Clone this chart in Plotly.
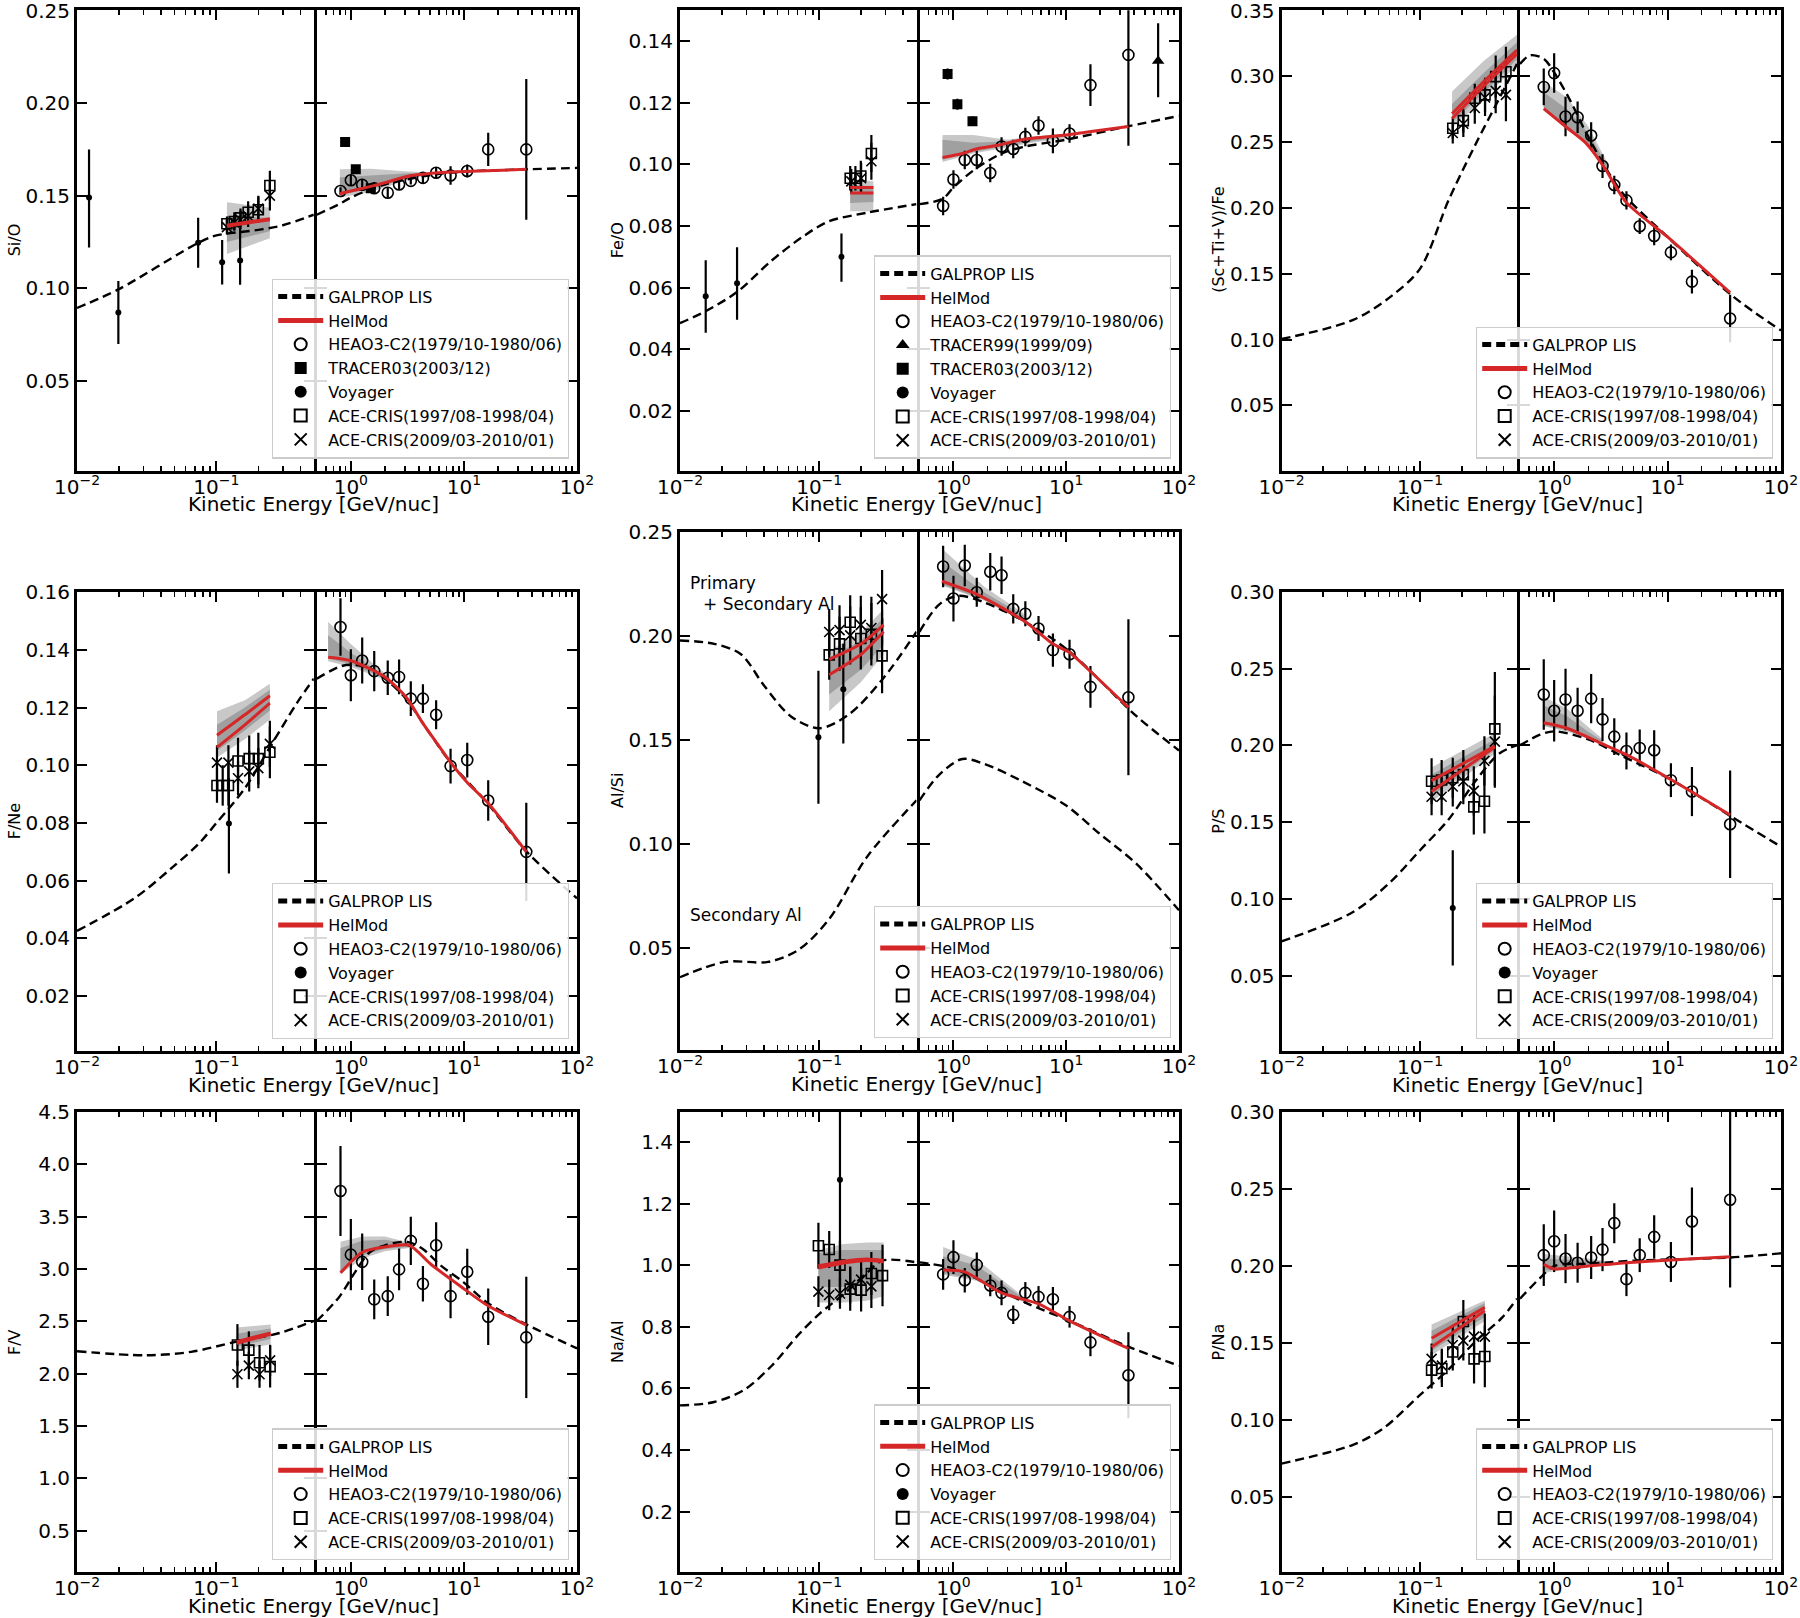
import math
import plotly.graph_objects as go

W, H = 1800, 1618
FONT = "DejaVu Sans"
RED = "#d62728"
BAND_OUT = "rgb(200,200,200)"
BAND_IN = "rgb(160,160,160)"

# ---------------- shared HEAO3-C2 energies ----------------
HEAO_E = [0.81, 1.0, 1.26, 1.61, 2.12, 2.67, 3.39, 4.34, 5.68, 7.62, 10.7, 16.4, 35.6]

# ---------------- Panel 1 : Si/O ----------------
SIO_GAL_L_E = [0.01, 0.02, 0.074, 0.1, 0.2, 0.3, 0.5]
SIO_GAL_L = [0.0893, 0.0995, 0.1245, 0.1285, 0.1315, 0.134, 0.1397]
SIO_GAL_R_E = [0.5, 0.8, 1.0, 2.0, 5.0, 10.0, 35.6, 100.0]
SIO_GAL_R = [0.1397, 0.1456, 0.149, 0.156, 0.161, 0.163, 0.1642, 0.165]
SIO_HM_L_E = [0.119, 0.242]
SIO_HM_L_A = [0.134, 0.1375]
SIO_HM_L_B = [0.1335, 0.137]
SIO_BO_L_LO = [0.1185, 0.127]
SIO_BO_L_HI = [0.1465, 0.1435]
SIO_BI_L_LO = [0.125, 0.1307]
SIO_BI_L_HI = [0.139, 0.138]
SIO_HM_R_E = [0.8, 1.0, 1.5, 2.0, 3.2, 5.0, 10.0, 35.6]
SIO_HM_R = [0.151, 0.1525, 0.155, 0.157, 0.1605, 0.162, 0.163, 0.1642]
SIO_B_R_E = [0.8, 1.5, 3.0, 5.0]
SIO_BO_R_LO = [0.149, 0.152, 0.158, 0.1615]
SIO_BO_R_HI = [0.1642, 0.1645, 0.1632, 0.1625]
SIO_BI_R_LO = [0.1505, 0.1535, 0.159, 0.1618]
SIO_BI_R_HI = [0.16, 0.161, 0.162, 0.1622]
SIO_VOY_E = [0.0122, 0.0198, 0.074, 0.11, 0.148]
SIO_VOY = [0.149, 0.0869, 0.1245, 0.114, 0.115]
SIO_VOY_EP = [0.026, 0.017, 0.0135, 0.012, 0.0175]
SIO_VOY_EM = [0.027, 0.017, 0.0135, 0.012, 0.0132]
SIO_ACE97_E = [0.119, 0.1345, 0.149, 0.169, 0.2, 0.242]
SIO_ACE97 = [0.1348, 0.136, 0.138, 0.141, 0.1424, 0.1555]
SIO_ACE97_ERR = [0.004, 0.005, 0.005, 0.006, 0.007, 0.008]
SIO_ACE09_E = [0.119, 0.1345, 0.149, 0.169, 0.2, 0.242]
SIO_ACE09 = [0.133, 0.1355, 0.137, 0.139, 0.143, 0.150]
SIO_ACE09_ERR = [0.004, 0.004, 0.005, 0.006, 0.007, 0.008]
SIO_TR03_E = [0.89, 1.106, 1.5]
SIO_TR03 = [0.179, 0.1642, 0.154]
SIO_TR03_ERR = [0.002, 0.002, 0.002]
SIO_HEAO = [0.1525, 0.1583, 0.1559, 0.154, 0.1516, 0.156, 0.158, 0.1596, 0.1624, 0.1609, 0.1633, 0.175, 0.175]
SIO_HEAO_ERR = [0.002, 0.003, 0.003, 0.003, 0.003, 0.003, 0.002, 0.003, 0.003, 0.005, 0.0035, 0.009, 0.038]

# ---------------- Panel 2 : Fe/O ----------------
FEO_GAL_L_E = [0.01, 0.0153, 0.0257, 0.045, 0.076, 0.117, 0.22, 0.5]
FEO_GAL_L = [0.0485, 0.0524, 0.0586, 0.0686, 0.0765, 0.0815, 0.0843, 0.0871]
FEO_GAL_R_E = [0.5, 0.8, 1.0, 1.5, 2.6, 4.1, 10.0, 35.0, 100.0]
FEO_GAL_R = [0.0871, 0.0888, 0.0925, 0.098, 0.1033, 0.1056, 0.108, 0.1123, 0.1157]
FEO_HM_L_E = [0.167, 0.245]
FEO_HM_L_A = [0.0925, 0.0925]
FEO_HM_L_B = [0.0907, 0.0907]
FEO_BO_L_LO = [0.0848, 0.0848]
FEO_BO_L_HI = [0.0952, 0.0945]
FEO_BI_L_LO = [0.0875, 0.0878]
FEO_BI_L_HI = [0.0932, 0.093]
FEO_HM_R_E = [0.8, 1.2, 1.6, 2.5, 4.2, 10.0, 16.0, 35.6]
FEO_HM_R = [0.1022, 0.1035, 0.105, 0.1062, 0.1081, 0.1095, 0.1106, 0.1123]
FEO_B_R_E = [0.8, 1.5, 3.0, 5.0, 10.0]
FEO_BO_R_LO = [0.1008, 0.1035, 0.1055, 0.107, 0.1085]
FEO_BO_R_HI = [0.1095, 0.1095, 0.108, 0.109, 0.110]
FEO_BI_R_LO = [0.1015, 0.104, 0.106, 0.1075, 0.109]
FEO_BI_R_HI = [0.108, 0.107, 0.1075, 0.1085, 0.1095]
FEO_VOY_E = [0.0153, 0.0257, 0.1445]
FEO_VOY = [0.0572, 0.0614, 0.070]
FEO_VOY_EP = [0.0117, 0.0117, 0.0076]
FEO_VOY_EM = [0.0118, 0.0118, 0.0081]
FEO_ACE97_E = [0.167, 0.182, 0.199, 0.237]
FEO_ACE97 = [0.0955, 0.0955, 0.0962, 0.1035]
FEO_ACE97_ERR = [0.004, 0.004, 0.005, 0.006]
FEO_ACE09_E = [0.17, 0.2, 0.237]
FEO_ACE09 = [0.0945, 0.0955, 0.101]
FEO_ACE09_ERR = [0.004, 0.005, 0.006]
FEO_TR99_E = [65.3]
FEO_TR99 = [0.1335]
FEO_TR99_EP = [0.0123]
FEO_TR99_EM = [0.0117]
FEO_TR03_E = [0.887, 1.084, 1.475]
FEO_TR03 = [0.1293, 0.1195, 0.114]
FEO_TR03_ERR = [0.0018, 0.0018, 0.0015]
FEO_HEAO = [0.0865, 0.0951, 0.1014, 0.1014, 0.0972, 0.1058, 0.105, 0.1089, 0.1126, 0.1076, 0.110, 0.1257, 0.1355]
FEO_HEAO_ERR = [0.003, 0.003, 0.003, 0.003, 0.003, 0.003, 0.003, 0.003, 0.003, 0.004, 0.003, 0.0068, 0.0295]

# ---------------- Panel 3 : (Sc+Ti+V)/Fe ----------------
STV_GAL_L_E = [0.01, 0.0329, 0.062, 0.1, 0.161, 0.25, 0.367, 0.5]
STV_GAL_L = [0.1005, 0.115, 0.1331, 0.154, 0.2063, 0.248, 0.282, 0.3095]
STV_GAL_R_E = [0.5, 0.615, 0.81, 1.0, 1.38, 1.88, 2.76, 4.0, 10.0, 37.6, 100.0]
STV_GAL_R = [0.3095, 0.316, 0.3134, 0.303, 0.282, 0.2585, 0.2324, 0.2115, 0.178, 0.133, 0.107]
STV_HM_L_E = [0.17, 0.29, 0.5]
STV_HM_L_A = [0.2716, 0.2964, 0.320]
STV_HM_L_B = [0.268, 0.293, 0.317]
STV_BO_L_LO = [0.2612, 0.283, 0.309]
STV_BO_L_HI = [0.2886, 0.312, 0.3317]
STV_BI_L_LO = [0.265, 0.288, 0.313]
STV_BI_L_HI = [0.279, 0.303, 0.326]
STV_HM_R_E = [0.81, 1.3, 1.9, 2.76, 4.3, 10.0, 35.6]
STV_HM_R = [0.2755, 0.261, 0.2495, 0.231, 0.2045, 0.178, 0.1357]
STV_B_R_E = [0.81, 1.3, 2.0, 3.0]
STV_BO_R_LO = [0.274, 0.261, 0.248, 0.226]
STV_BO_R_HI = [0.296, 0.284, 0.262, 0.233]
STV_BI_R_LO = [0.275, 0.262, 0.249, 0.227]
STV_BI_R_HI = [0.288, 0.275, 0.257, 0.231]
STV_ACE97_E = [0.172, 0.205, 0.248, 0.294, 0.351, 0.416]
STV_ACE97 = [0.2606, 0.2664, 0.2834, 0.286, 0.2998, 0.3035]
STV_ACE97_ERR = [0.008, 0.009, 0.011, 0.013, 0.016, 0.019]
STV_ACE09_E = [0.172, 0.205, 0.248, 0.294, 0.351, 0.416]
STV_ACE09 = [0.257, 0.264, 0.276, 0.284, 0.289, 0.286]
STV_ACE09_ERR = [0.008, 0.01, 0.012, 0.014, 0.017, 0.02]
STV_HEAO = [0.292, 0.3025, 0.2695, 0.269, 0.2551, 0.2319, 0.2175, 0.2058, 0.1862, 0.1788, 0.1663, 0.1441, 0.1161]
STV_HEAO_ERR = [0.014, 0.015, 0.015, 0.012, 0.01, 0.009, 0.007, 0.007, 0.006, 0.007, 0.006, 0.009, 0.018]

# ---------------- Panel 4 : F/Ne ----------------
FNE_GAL_L_E = [0.01, 0.0258, 0.0483, 0.075, 0.1, 0.16, 0.25, 0.38, 0.5]
FNE_GAL_L = [0.0426, 0.0539, 0.0646, 0.0729, 0.080, 0.092, 0.1074, 0.1217, 0.130]
FNE_GAL_R_E = [0.5, 0.8, 1.0, 1.5, 2.0, 3.0, 5.0, 7.6, 16.0, 36.0, 100.0]
FNE_GAL_R = [0.130, 0.1342, 0.1348, 0.1335, 0.130, 0.1235, 0.111, 0.101, 0.087, 0.070, 0.0539]
FNE_HM_L_E = [0.101, 0.16, 0.242]
FNE_HM_L_A = [0.1104, 0.1175, 0.1241]
FNE_HM_L_B = [0.1062, 0.114, 0.1215]
FNE_BO_L_LO = [0.1027, 0.109, 0.1158]
FNE_BO_L_HI = [0.1187, 0.1225, 0.1282]
FNE_BI_L_LO = [0.105, 0.112, 0.119]
FNE_BI_L_HI = [0.114, 0.120, 0.1262]
FNE_HM_R_E = [0.63, 1.0, 2.0, 3.1, 4.34, 5.68, 7.62, 10.7, 16.4, 35.6]
FNE_HM_R = [0.1374, 0.1362, 0.1306, 0.1235, 0.1145, 0.108, 0.101, 0.094, 0.0868, 0.070]
FNE_B_R_E = [0.63, 1.0, 1.6, 2.2]
FNE_BO_R_LO = [0.136, 0.134, 0.131, 0.129]
FNE_BO_R_HI = [0.1497, 0.142, 0.135, 0.1305]
FNE_BI_R_LO = [0.137, 0.135, 0.1315, 0.1293]
FNE_BI_R_HI = [0.145, 0.139, 0.1335, 0.130]
FNE_VOY_E = [0.123]
FNE_VOY = [0.0798]
FNE_VOY_EP = [0.0157]
FNE_VOY_EM = [0.0173]
FNE_ACE97_E = [0.101, 0.111, 0.122, 0.143, 0.172, 0.2, 0.242]
FNE_ACE97 = [0.093, 0.093, 0.093, 0.1015, 0.1023, 0.1023, 0.1045]
FNE_ACE97_ERR = [0.006, 0.007, 0.007, 0.008, 0.008, 0.009, 0.009]
FNE_ACE09_E = [0.101, 0.122, 0.143, 0.172, 0.2, 0.242]
FNE_ACE09 = [0.1009, 0.1009, 0.0955, 0.0979, 0.099, 0.1074]
FNE_ACE09_ERR = [0.006, 0.006, 0.006, 0.007, 0.007, 0.008]
FNE_HEAO = [0.1479, 0.1312, 0.1363, 0.1326, 0.1303, 0.1306, 0.1231, 0.1231, 0.1175, 0.0997, 0.1018, 0.0878, 0.070]
FNE_HEAO_ERR = [0.01, 0.009, 0.008, 0.007, 0.006, 0.006, 0.006, 0.005, 0.005, 0.006, 0.006, 0.007, 0.017]

# ---------------- Panel 5 : Al/Si ----------------
ALSI_GAL_L_E = [0.01, 0.0176, 0.0274, 0.04, 0.0624, 0.1, 0.164, 0.29, 0.5]
ALSI_GAL_L = [0.198, 0.1964, 0.1914, 0.1765, 0.1616, 0.1558, 0.1625, 0.180, 0.2022]
ALSI_GAL_R_E = [0.5, 0.75, 1.1, 1.9, 4.3, 10.0, 42.0, 100.0]
ALSI_GAL_R = [0.2022, 0.2154, 0.2195, 0.2162, 0.207, 0.194, 0.1616, 0.1451]
ALSI_SEC_L_E = [0.01, 0.021, 0.043, 0.071, 0.118, 0.22, 0.5]
ALSI_SEC_L = [0.036, 0.0434, 0.0434, 0.0492, 0.064, 0.0938, 0.1211]
ALSI_SEC_R_E = [0.5, 0.75, 1.2, 1.9, 4.1, 10.0, 19.4, 42.0, 100.0]
ALSI_SEC_R = [0.1211, 0.1335, 0.141, 0.1385, 0.1302, 0.1186, 0.1054, 0.0905, 0.0682]
ALSI_HM_L_E = [0.118, 0.2, 0.29]
ALSI_HM_L_A = [0.1889, 0.1964, 0.2055]
ALSI_HM_L_B = [0.1815, 0.1914, 0.2022]
ALSI_BO_L_LO = [0.164, 0.178, 0.1914]
ALSI_BO_L_HI = [0.193, 0.202, 0.213]
ALSI_BI_L_LO = [0.172, 0.184, 0.196]
ALSI_BI_L_HI = [0.19, 0.198, 0.209]
ALSI_HM_R_E = [0.79, 1.6, 4.34, 7.62, 10.7, 16.4, 35.6]
ALSI_HM_R = [0.2265, 0.2203, 0.207, 0.1964, 0.1922, 0.1831, 0.1658]
ALSI_B_R_E = [0.79, 1.9, 4.2]
ALSI_BO_R_LO = [0.2245, 0.217, 0.207]
ALSI_BO_R_HI = [0.2423, 0.2236, 0.211]
ALSI_BI_R_LO = [0.225, 0.2175, 0.2075]
ALSI_BI_R_HI = [0.236, 0.221, 0.210]
ALSI_VOY_E = [0.0987, 0.149]
ALSI_VOY = [0.1514, 0.1745]
ALSI_VOY_EP = [0.0321, 0.0219]
ALSI_VOY_EM = [0.0319, 0.0261]
ALSI_ACE97_E = [0.118, 0.140, 0.167, 0.199, 0.237, 0.283]
ALSI_ACE97 = [0.1911, 0.1964, 0.2068, 0.199, 0.201, 0.1906]
ALSI_ACE97_ERR = [0.012, 0.013, 0.013, 0.015, 0.015, 0.018]
ALSI_ACE09_E = [0.118, 0.140, 0.167, 0.199, 0.237, 0.283]
ALSI_ACE09 = [0.2021, 0.2030, 0.2005, 0.2055, 0.2040, 0.2179]
ALSI_ACE09_ERR = [0.011, 0.012, 0.014, 0.014, 0.015, 0.014]
ALSI_HEAO = [0.2336, 0.2182, 0.2341, 0.2212, 0.2311, 0.2294, 0.2132, 0.2109, 0.2038, 0.1934, 0.1914, 0.1757, 0.1707]
ALSI_HEAO_ERR = [0.01, 0.011, 0.01, 0.007, 0.009, 0.009, 0.007, 0.006, 0.006, 0.008, 0.007, 0.01, 0.0375]

# ---------------- Panel 6 : P/S ----------------
PS_GAL_L_E = [0.01, 0.0328, 0.062, 0.1, 0.161, 0.25, 0.37, 0.5]
PS_GAL_L = [0.0724, 0.0915, 0.1117, 0.1318, 0.152, 0.1767, 0.1946, 0.2002]
PS_GAL_R_E = [0.5, 0.75, 1.0, 2.0, 4.0, 10.7, 37.6, 100.0]
PS_GAL_R = [0.2002, 0.207, 0.2092, 0.204, 0.193, 0.1778, 0.1531, 0.1341]
PS_HM_L_E = [0.121, 0.346]
PS_HM_L_A = [0.1771, 0.1996]
PS_HM_L_B = [0.170, 0.199]
PS_BO_L_LO = [0.1632, 0.1946]
PS_BO_L_HI = [0.1857, 0.208]
PS_BI_L_LO = [0.167, 0.197]
PS_BI_L_HI = [0.181, 0.204]
PS_HM_R_E = [0.81, 1.28, 2.67, 4.34, 10.7, 35.6]
PS_HM_R = [0.2148, 0.2114, 0.201, 0.194, 0.1778, 0.1547]
PS_B_R_E = [0.81, 1.3, 2.0, 2.7]
PS_BO_R_LO = [0.2126, 0.209, 0.205, 0.200]
PS_BO_R_HI = [0.2316, 0.224, 0.212, 0.204]
PS_BI_R_LO = [0.213, 0.21, 0.205, 0.2005]
PS_BI_R_HI = [0.226, 0.219, 0.209, 0.203]
PS_VOY_E = [0.172]
PS_VOY = [0.0942]
PS_VOY_EP = [0.0376]
PS_VOY_EM = [0.0375]
PS_ACE97_E = [0.121, 0.143, 0.172, 0.205, 0.244, 0.291, 0.346]
PS_ACE97 = [0.1767, 0.1775, 0.179, 0.181, 0.160, 0.1637, 0.2108]
PS_ACE97_ERR = [0.015, 0.013, 0.013, 0.016, 0.018, 0.021, 0.037]
PS_ACE09_E = [0.121, 0.143, 0.172, 0.205, 0.244, 0.291, 0.346]
PS_ACE09 = [0.1666, 0.1666, 0.1733, 0.1767, 0.1704, 0.19, 0.2025]
PS_ACE09_ERR = [0.012, 0.012, 0.013, 0.015, 0.016, 0.016, 0.03]
PS_HEAO = [0.2332, 0.2226, 0.23, 0.2226, 0.2305, 0.217, 0.2058, 0.1964, 0.1984, 0.1969, 0.1774, 0.17, 0.1487]
PS_HEAO_ERR = [0.023, 0.02, 0.02, 0.015, 0.016, 0.014, 0.012, 0.012, 0.012, 0.013, 0.011, 0.016, 0.035]

# ---------------- Panel 7 : F/V ----------------
FV_GAL_L_E = [0.01, 0.031, 0.066, 0.14, 0.284, 0.5]
FV_GAL_L = [2.214, 2.175, 2.208, 2.306, 2.388, 2.503]
FV_GAL_R_E = [0.5, 0.79, 1.08, 1.47, 2.0, 3.16, 4.3, 6.3, 10.0, 16.0, 35.6, 100.0]
FV_GAL_R = [2.503, 2.733, 2.963, 3.16, 3.226, 3.259, 3.193, 3.029, 2.87, 2.68, 2.47, 2.241]
FV_HM_L_E = [0.14, 0.245]
FV_HM_L_A = [2.306, 2.389]
FV_HM_L_B = [2.29, 2.375]
FV_BO_L_LO = [2.22, 2.28]
FV_BO_L_HI = [2.44, 2.47]
FV_BI_L_LO = [2.26, 2.33]
FV_BI_L_HI = [2.38, 2.43]
FV_HM_R_E = [0.81, 1.26, 2.0, 3.3, 5.1, 9.4, 16.2, 35.6]
FV_HM_R = [2.963, 3.16, 3.21, 3.226, 3.045, 2.832, 2.651, 2.464]
FV_B_R_E = [0.81, 1.26, 2.0, 3.3]
FV_BO_R_LO = [2.95, 3.10, 3.17, 3.20]
FV_BO_R_HI = [3.26, 3.31, 3.31, 3.25]
FV_BI_R_LO = [2.98, 3.13, 3.19, 3.21]
FV_BI_R_HI = [3.20, 3.27, 3.28, 3.24]
FV_ACE97_E = [0.1416, 0.171, 0.204, 0.243]
FV_ACE97 = [2.273, 2.224, 2.103, 2.067]
FV_ACE97_ERR = [0.2, 0.18, 0.17, 0.2]
FV_ACE09_E = [0.1416, 0.171, 0.204, 0.243]
FV_ACE09 = [1.994, 2.076, 1.994, 2.126]
FV_ACE09_ERR = [0.13, 0.13, 0.13, 0.15]
FV_HEAO = [3.745, 3.137, 3.068, 2.71, 2.74, 2.996, 3.268, 2.858, 3.226, 2.74, 2.973, 2.543, 2.346]
FV_HEAO_ERR = [0.43, 0.34, 0.27, 0.19, 0.19, 0.2, 0.23, 0.17, 0.22, 0.21, 0.22, 0.27, 0.58]

# ---------------- Panel 8 : Na/Al ----------------
NAAL_GAL_L_E = [0.01, 0.0176, 0.029, 0.0456, 0.071, 0.1, 0.152, 0.22, 0.285, 0.5]
NAAL_GAL_L = [0.545, 0.556, 0.596, 0.674, 0.775, 0.842, 0.909, 0.976, 1.016, 1.01]
NAAL_GAL_R_E = [0.5, 1.0, 2.0, 4.3, 10.7, 35.6, 100.0]
NAAL_GAL_R = [1.01, 0.99, 0.94, 0.88, 0.82, 0.736, 0.674]
NAAL_HM_L_E = [0.0987, 0.15, 0.22, 0.29]
NAAL_HM_L_A = [0.999, 1.014, 1.021, 1.016]
NAAL_HM_L_B = [0.992, 1.008, 1.016, 1.012]
NAAL_BO_L_LO = [0.88, 0.88, 0.885, 0.90]
NAAL_BO_L_HI = [1.05, 1.07, 1.075, 1.075]
NAAL_BI_L_LO = [0.93, 0.93, 0.94, 0.95]
NAAL_BI_L_HI = [1.04, 1.05, 1.05, 1.05]
NAAL_HM_R_E = [0.81, 1.26, 2.67, 5.68, 10.7, 35.6]
NAAL_HM_R = [0.985, 0.979, 0.911, 0.875, 0.82, 0.73]
NAAL_B_R_E = [0.81, 1.6, 3.0, 4.3]
NAAL_BO_R_LO = [0.97, 0.95, 0.90, 0.88]
NAAL_BO_R_HI = [1.06, 1.02, 0.94, 0.895]
NAAL_BI_R_LO = [0.975, 0.955, 0.905, 0.882]
NAAL_BI_R_HI = [1.03, 1.0, 0.93, 0.89]
NAAL_VOY_E = [0.141]
NAAL_VOY = [1.279]
NAAL_VOY_EP = [0.25]
NAAL_VOY_EM = [0.40]
NAAL_ACE97_E = [0.0987, 0.118, 0.141, 0.167, 0.2, 0.237, 0.285]
NAAL_ACE97 = [1.064, 1.052, 1.001, 0.923, 0.920, 0.974, 0.967]
NAAL_ACE97_ERR = [0.075, 0.06, 0.08, 0.07, 0.07, 0.07, 0.1]
NAAL_ACE09_E = [0.0987, 0.118, 0.141, 0.167, 0.2, 0.237]
NAAL_ACE09 = [0.915, 0.904, 0.909, 0.937, 0.954, 0.932]
NAAL_ACE09_ERR = [0.05, 0.05, 0.05, 0.06, 0.06, 0.07]
NAAL_HEAO = [0.971, 1.027, 0.952, 1.002, 0.935, 0.911, 0.84, 0.911, 0.898, 0.89, 0.833, 0.75, 0.643]
NAAL_HEAO_ERR = [0.05, 0.055, 0.04, 0.04, 0.035, 0.04, 0.03, 0.035, 0.035, 0.04, 0.035, 0.045, 0.14]

# ---------------- Panel 9 : P/Na ----------------
PNA_GAL_L_E = [0.01, 0.0328, 0.055, 0.1, 0.161, 0.25, 0.39, 0.5]
PNA_GAL_L = [0.0717, 0.0839, 0.095, 0.1163, 0.133, 0.1509, 0.1665, 0.1788]
PNA_GAL_R_E = [0.5, 0.75, 1.0, 2.0, 5.0, 35.6, 100.0]
PNA_GAL_R = [0.1788, 0.1922, 0.200, 0.2015, 0.2035, 0.2056, 0.2083]
PNA_HM_L_E = [0.121, 0.293]
PNA_HM_L_A = [0.1531, 0.1732]
PNA_HM_L_B = [0.1475, 0.171]
PNA_BO_L_LO = [0.142, 0.1643]
PNA_BO_L_HI = [0.162, 0.1777]
PNA_BI_L_LO = [0.145, 0.167]
PNA_BI_L_HI = [0.158, 0.176]
PNA_HM_R_E = [0.81, 1.0, 2.0, 4.34, 10.7, 35.6]
PNA_HM_R = [0.2011, 0.1982, 0.200, 0.2022, 0.204, 0.206]
PNA_B_R_E = [0.81, 1.3, 2.0, 2.7]
PNA_BO_R_LO = [0.1955, 0.198, 0.200, 0.201]
PNA_BO_R_HI = [0.2078, 0.2065, 0.205, 0.2035]
PNA_BI_R_LO = [0.197, 0.1985, 0.2005, 0.2013]
PNA_BI_R_HI = [0.205, 0.204, 0.2035, 0.203]
PNA_ACE97_E = [0.121, 0.1435, 0.172, 0.205, 0.245, 0.293]
PNA_ACE97 = [0.1324, 0.1335, 0.1442, 0.164, 0.1397, 0.1413]
PNA_ACE97_ERR = [0.012, 0.012, 0.012, 0.014, 0.016, 0.02]
PNA_ACE09_E = [0.121, 0.1435, 0.172, 0.205, 0.245, 0.293]
PNA_ACE09 = [0.1397, 0.1353, 0.1487, 0.1516, 0.1542, 0.1542]
PNA_ACE09_ERR = [0.01, 0.011, 0.012, 0.013, 0.014, 0.015]
PNA_HEAO = [0.2071, 0.2161, 0.2049, 0.2022, 0.2056, 0.2107, 0.2279, 0.1915, 0.2071, 0.219, 0.2027, 0.229, 0.2431]
PNA_HEAO_ERR = [0.02, 0.02, 0.016, 0.013, 0.014, 0.014, 0.013, 0.011, 0.011, 0.014, 0.013, 0.022, 0.057]

# ---------------- axis ticks / titles ----------------
Y_TITLES = ["Si/O", "Fe/O", "(Sc+Ti+V)/Fe", "F/Ne", "Al/Si", "P/S", "F/V", "Na/Al", "P/Na"]
Y_RANGES = [(0.0015, 0.2502), (0.0007, 0.15), (0.0006, 0.3503), (0.001, 0.1602), (0.001, 0.2502),
            (0.001, 0.3003), (0.1, 4.503), (0.002, 1.5), (0.001, 0.3003)]
Y_TICKS = [
    [0.05, 0.10, 0.15, 0.20, 0.25],
    [0.02, 0.04, 0.06, 0.08, 0.10, 0.12, 0.14],
    [0.05, 0.10, 0.15, 0.20, 0.25, 0.30, 0.35],
    [0.02, 0.04, 0.06, 0.08, 0.10, 0.12, 0.14, 0.16],
    [0.05, 0.10, 0.15, 0.20, 0.25],
    [0.05, 0.10, 0.15, 0.20, 0.25, 0.30],
    [0.5, 1.0, 1.5, 2.0, 2.5, 3.0, 3.5, 4.0, 4.5],
    [0.2, 0.4, 0.6, 0.8, 1.0, 1.2, 1.4],
    [0.05, 0.10, 0.15, 0.20, 0.25, 0.30],
]
Y_FMT = ["{:.2f}", "{:.2f}", "{:.2f}", "{:.2f}", "{:.2f}", "{:.2f}", "{:.1f}", "{:.1f}", "{:.2f}"]
X_TITLE = "Kinetic Energy [GeV/nuc]"
X_LEFT_TICKS = [0.01, 0.1]
X_LEFT_TEXT = ["10<sup>\u22122</sup>", "10<sup>\u22121</sup>"]
X_RIGHT_TICKS = [1, 10, 100]
X_RIGHT_TEXT = ["10<sup>0</sup>", "10<sup>1</sup>", "10<sup>2</sup>"]
E_SPLIT = 0.5

# ---------------- geometry (window pixels) ----------------
COLS = [(77, 313.8, 577), (680, 916.5, 1179), (1281.5, 1517, 1781)]
PANEL_ROWS = [(10.2, 470.5), (10.2, 470.5), (10.2, 470.5),
              (591.5, 1051), (532, 1050), (591.5, 1051),
              (1111.7, 1572.4), (1111.7, 1572.4), (1111.7, 1572.4)]
LW = 3


def fx(px):
    return px / W


def fy(py):
    return 1 - py / H


fig = go.Figure()

STYLES = {
    "HEAO": dict(name="HEAO3-C2(1979/10-1980/06)", symbol="circle-open", size=11, rank=3),
    "TR99": dict(name="TRACER99(1999/09)", symbol="triangle-up", size=11, rank=4),
    "TR03": dict(name="TRACER03(2003/12)", symbol="square", size=10, rank=5),
    "VOY": dict(name="Voyager", symbol="circle", size=6, rank=6),
    "ACE97": dict(name="ACE-CRIS(1997/08-1998/04)", symbol="square-open", size=10, rank=7),
    "ACE09": dict(name="ACE-CRIS(2009/03-2010/01)", symbol="x-thin-open", size=10, rank=8),
}


def axref(n, letter):
    return letter if n == 1 else f"{letter}{n}"


def legname(k):
    return "legend" if k == 0 else f"legend{k + 1}"


def add_band(n, k, E, lo, hi, color):
    fig.add_trace(go.Scatter(
        x=list(E) + list(E)[::-1], y=list(hi) + list(lo)[::-1],
        fill="toself", fillcolor=color, line=dict(width=0), mode="lines",
        hoverinfo="skip", showlegend=False,
        xaxis=axref(n, "x"), yaxis=axref(n, "y"), legend=legname(k)))


def add_gal(n, k, E, y, show):
    fig.add_trace(go.Scatter(
        x=E, y=y, mode="lines", name="GALPROP LIS",
        line=dict(color="black", width=2.4, dash="9px,5px", shape="spline", smoothing=0.9),
        showlegend=show, legendrank=1,
        xaxis=axref(n, "x"), yaxis=axref(n, "y"), legend=legname(k)))


def add_red(n, k, E, y, show):
    fig.add_trace(go.Scatter(
        x=E, y=y, mode="lines", name="HelMod",
        line=dict(color=RED, width=3, shape="spline", smoothing=0.7),
        showlegend=show, legendrank=2,
        xaxis=axref(n, "x"), yaxis=axref(n, "y"), legend=legname(k)))


def add_pts(n, k, key, E, y, ep, em=None, show=True):
    st = STYLES[key]
    err = dict(type="data", array=ep, color="black", thickness=2.2, width=0)
    if em is not None:
        err.update(symmetric=False, arrayminus=em)
    filled = not st["symbol"].endswith("open")
    fig.add_trace(go.Scatter(
        x=E, y=y, mode="markers", name=st["name"],
        marker=dict(symbol=st["symbol"], size=st["size"], color="black",
                    line=dict(width=0 if filled else 1.6, color="black")),
        error_y=err, showlegend=show, legendrank=st["rank"],
        xaxis=axref(n, "x"), yaxis=axref(n, "y"), legend=legname(k)))


def panel(k, gal_l, gal_r, hm_l, band_l, hm_r, band_r, pts_l, pts_r, extra_gal=None):
    nl, nr = 2 * k + 1, 2 * k + 2
    bE, boLo, boHi, biLo, biHi = band_l
    add_band(nl, k, bE, boLo, boHi, BAND_OUT)
    add_band(nl, k, bE, biLo, biHi, BAND_IN)
    bE, boLo, boHi, biLo, biHi = band_r
    add_band(nr, k, bE, boLo, boHi, BAND_OUT)
    add_band(nr, k, bE, biLo, biHi, BAND_IN)
    add_gal(nl, k, gal_l[0], gal_l[1], True)
    add_gal(nr, k, gal_r[0], gal_r[1], False)
    if extra_gal:
        add_gal(nl, k, extra_gal[0][0], extra_gal[0][1], False)
        add_gal(nr, k, extra_gal[1][0], extra_gal[1][1], False)
    for p in pts_l:
        add_pts(nl, k, *p)
    for p in pts_r:
        add_pts(nr, k, *p)
    E, a, b = hm_l
    add_red(nl, k, E, a, True)
    add_red(nl, k, E, b, False)
    add_red(nr, k, hm_r[0], hm_r[1], False)


panel(0, (SIO_GAL_L_E, SIO_GAL_L), (SIO_GAL_R_E, SIO_GAL_R),
      (SIO_HM_L_E, SIO_HM_L_A, SIO_HM_L_B),
      (SIO_HM_L_E, SIO_BO_L_LO, SIO_BO_L_HI, SIO_BI_L_LO, SIO_BI_L_HI),
      (SIO_HM_R_E, SIO_HM_R),
      (SIO_B_R_E, SIO_BO_R_LO, SIO_BO_R_HI, SIO_BI_R_LO, SIO_BI_R_HI),
      [("VOY", SIO_VOY_E, SIO_VOY, SIO_VOY_EP, SIO_VOY_EM),
       ("ACE97", SIO_ACE97_E, SIO_ACE97, SIO_ACE97_ERR),
       ("ACE09", SIO_ACE09_E, SIO_ACE09, SIO_ACE09_ERR)],
      [("HEAO", HEAO_E, SIO_HEAO, SIO_HEAO_ERR),
       ("TR03", SIO_TR03_E, SIO_TR03, SIO_TR03_ERR)])

panel(1, (FEO_GAL_L_E, FEO_GAL_L), (FEO_GAL_R_E, FEO_GAL_R),
      (FEO_HM_L_E, FEO_HM_L_A, FEO_HM_L_B),
      (FEO_HM_L_E, FEO_BO_L_LO, FEO_BO_L_HI, FEO_BI_L_LO, FEO_BI_L_HI),
      (FEO_HM_R_E, FEO_HM_R),
      (FEO_B_R_E, FEO_BO_R_LO, FEO_BO_R_HI, FEO_BI_R_LO, FEO_BI_R_HI),
      [("VOY", FEO_VOY_E, FEO_VOY, FEO_VOY_EP, FEO_VOY_EM),
       ("ACE97", FEO_ACE97_E, FEO_ACE97, FEO_ACE97_ERR),
       ("ACE09", FEO_ACE09_E, FEO_ACE09, FEO_ACE09_ERR)],
      [("HEAO", HEAO_E, FEO_HEAO, FEO_HEAO_ERR),
       ("TR99", FEO_TR99_E, FEO_TR99, FEO_TR99_EP, FEO_TR99_EM),
       ("TR03", FEO_TR03_E, FEO_TR03, FEO_TR03_ERR)])

panel(2, (STV_GAL_L_E, STV_GAL_L), (STV_GAL_R_E, STV_GAL_R),
      (STV_HM_L_E, STV_HM_L_A, STV_HM_L_B),
      (STV_HM_L_E, STV_BO_L_LO, STV_BO_L_HI, STV_BI_L_LO, STV_BI_L_HI),
      (STV_HM_R_E, STV_HM_R),
      (STV_B_R_E, STV_BO_R_LO, STV_BO_R_HI, STV_BI_R_LO, STV_BI_R_HI),
      [("ACE97", STV_ACE97_E, STV_ACE97, STV_ACE97_ERR),
       ("ACE09", STV_ACE09_E, STV_ACE09, STV_ACE09_ERR)],
      [("HEAO", HEAO_E, STV_HEAO, STV_HEAO_ERR)])

panel(3, (FNE_GAL_L_E, FNE_GAL_L), (FNE_GAL_R_E, FNE_GAL_R),
      (FNE_HM_L_E, FNE_HM_L_A, FNE_HM_L_B),
      (FNE_HM_L_E, FNE_BO_L_LO, FNE_BO_L_HI, FNE_BI_L_LO, FNE_BI_L_HI),
      (FNE_HM_R_E, FNE_HM_R),
      (FNE_B_R_E, FNE_BO_R_LO, FNE_BO_R_HI, FNE_BI_R_LO, FNE_BI_R_HI),
      [("VOY", FNE_VOY_E, FNE_VOY, FNE_VOY_EP, FNE_VOY_EM),
       ("ACE97", FNE_ACE97_E, FNE_ACE97, FNE_ACE97_ERR),
       ("ACE09", FNE_ACE09_E, FNE_ACE09, FNE_ACE09_ERR)],
      [("HEAO", HEAO_E, FNE_HEAO, FNE_HEAO_ERR)])

panel(4, (ALSI_GAL_L_E, ALSI_GAL_L), (ALSI_GAL_R_E, ALSI_GAL_R),
      (ALSI_HM_L_E, ALSI_HM_L_A, ALSI_HM_L_B),
      (ALSI_HM_L_E, ALSI_BO_L_LO, ALSI_BO_L_HI, ALSI_BI_L_LO, ALSI_BI_L_HI),
      (ALSI_HM_R_E, ALSI_HM_R),
      (ALSI_B_R_E, ALSI_BO_R_LO, ALSI_BO_R_HI, ALSI_BI_R_LO, ALSI_BI_R_HI),
      [("VOY", ALSI_VOY_E, ALSI_VOY, ALSI_VOY_EP, ALSI_VOY_EM, False),
       ("ACE97", ALSI_ACE97_E, ALSI_ACE97, ALSI_ACE97_ERR),
       ("ACE09", ALSI_ACE09_E, ALSI_ACE09, ALSI_ACE09_ERR)],
      [("HEAO", HEAO_E, ALSI_HEAO, ALSI_HEAO_ERR)],
      extra_gal=((ALSI_SEC_L_E, ALSI_SEC_L), (ALSI_SEC_R_E, ALSI_SEC_R)))

panel(5, (PS_GAL_L_E, PS_GAL_L), (PS_GAL_R_E, PS_GAL_R),
      (PS_HM_L_E, PS_HM_L_A, PS_HM_L_B),
      (PS_HM_L_E, PS_BO_L_LO, PS_BO_L_HI, PS_BI_L_LO, PS_BI_L_HI),
      (PS_HM_R_E, PS_HM_R),
      (PS_B_R_E, PS_BO_R_LO, PS_BO_R_HI, PS_BI_R_LO, PS_BI_R_HI),
      [("VOY", PS_VOY_E, PS_VOY, PS_VOY_EP, PS_VOY_EM),
       ("ACE97", PS_ACE97_E, PS_ACE97, PS_ACE97_ERR),
       ("ACE09", PS_ACE09_E, PS_ACE09, PS_ACE09_ERR)],
      [("HEAO", HEAO_E, PS_HEAO, PS_HEAO_ERR)])

panel(6, (FV_GAL_L_E, FV_GAL_L), (FV_GAL_R_E, FV_GAL_R),
      (FV_HM_L_E, FV_HM_L_A, FV_HM_L_B),
      (FV_HM_L_E, FV_BO_L_LO, FV_BO_L_HI, FV_BI_L_LO, FV_BI_L_HI),
      (FV_HM_R_E, FV_HM_R),
      (FV_B_R_E, FV_BO_R_LO, FV_BO_R_HI, FV_BI_R_LO, FV_BI_R_HI),
      [("ACE97", FV_ACE97_E, FV_ACE97, FV_ACE97_ERR),
       ("ACE09", FV_ACE09_E, FV_ACE09, FV_ACE09_ERR)],
      [("HEAO", HEAO_E, FV_HEAO, FV_HEAO_ERR)])

panel(7, (NAAL_GAL_L_E, NAAL_GAL_L), (NAAL_GAL_R_E, NAAL_GAL_R),
      (NAAL_HM_L_E, NAAL_HM_L_A, NAAL_HM_L_B),
      (NAAL_HM_L_E, NAAL_BO_L_LO, NAAL_BO_L_HI, NAAL_BI_L_LO, NAAL_BI_L_HI),
      (NAAL_HM_R_E, NAAL_HM_R),
      (NAAL_B_R_E, NAAL_BO_R_LO, NAAL_BO_R_HI, NAAL_BI_R_LO, NAAL_BI_R_HI),
      [("VOY", NAAL_VOY_E, NAAL_VOY, NAAL_VOY_EP, NAAL_VOY_EM),
       ("ACE97", NAAL_ACE97_E, NAAL_ACE97, NAAL_ACE97_ERR),
       ("ACE09", NAAL_ACE09_E, NAAL_ACE09, NAAL_ACE09_ERR)],
      [("HEAO", HEAO_E, NAAL_HEAO, NAAL_HEAO_ERR)])

panel(8, (PNA_GAL_L_E, PNA_GAL_L), (PNA_GAL_R_E, PNA_GAL_R),
      (PNA_HM_L_E, PNA_HM_L_A, PNA_HM_L_B),
      (PNA_HM_L_E, PNA_BO_L_LO, PNA_BO_L_HI, PNA_BI_L_LO, PNA_BI_L_HI),
      (PNA_HM_R_E, PNA_HM_R),
      (PNA_B_R_E, PNA_BO_R_LO, PNA_BO_R_HI, PNA_BI_R_LO, PNA_BI_R_HI),
      [("ACE97", PNA_ACE97_E, PNA_ACE97, PNA_ACE97_ERR),
       ("ACE09", PNA_ACE09_E, PNA_ACE09, PNA_ACE09_ERR)],
      [("HEAO", HEAO_E, PNA_HEAO, PNA_HEAO_ERR)])

# ---------------- layout ----------------
layout = dict(width=W, height=H, margin=dict(l=0, r=0, t=0, b=0, autoexpand=False),
              plot_bgcolor="white", paper_bgcolor="white",
              font=dict(family=FONT, color="black"), showlegend=True)

TICKFONT = dict(family=FONT, size=20, color="black")
MINOR_L = [0.02, 0.03, 0.04, 0.05, 0.06, 0.07, 0.08, 0.09, 0.2, 0.3, 0.4]
MINOR_R = [0.6, 0.7, 0.8, 0.9] + [i for i in range(2, 10)] + [10 * i for i in range(2, 10)]

annotations = []
for k in range(9):
    col = COLS[k % 3]
    top, bot = PANEL_ROWS[k]
    nl, nr = 2 * k + 1, 2 * k + 2
    common = dict(showline=True, linecolor="black", linewidth=LW, mirror="ticks",
                  ticks="inside", ticklen=10, tickwidth=2, tickcolor="black",
                  showgrid=False, zeroline=False, tickfont=TICKFONT, automargin=False)
    minor = dict(ticks="inside", ticklen=5, tickwidth=1.5, tickcolor="black", showgrid=False)
    layout["xaxis" if nl == 1 else f"xaxis{nl}"] = dict(
        common, type="log", range=[-2, math.log10(E_SPLIT)],
        domain=[fx(col[0]), fx(col[1])], anchor=axref(nl, "y"),
        tickmode="array", tickvals=X_LEFT_TICKS, ticktext=X_LEFT_TEXT,
        ticklabeloverflow="allow", ticklabelstandoff=-4,
        minor=dict(minor, tickmode="array", tickvals=MINOR_L))
    layout[f"xaxis{nr}"] = dict(
        common, type="log", range=[math.log10(E_SPLIT), 2],
        domain=[fx(col[1] + LW), fx(col[2])], anchor=axref(nr, "y"),
        tickmode="array", tickvals=X_RIGHT_TICKS, ticktext=X_RIGHT_TEXT,
        ticklabeloverflow="allow", ticklabelstandoff=-4,
        minor=dict(minor, tickmode="array", tickvals=MINOR_R))
    ytext = [Y_FMT[k].format(v) for v in Y_TICKS[k]]
    layout["yaxis" if nl == 1 else f"yaxis{nl}"] = dict(
        common, range=list(Y_RANGES[k]), domain=[fy(bot), fy(top)],
        anchor=axref(nl, "x"), tickmode="array", tickvals=Y_TICKS[k], ticktext=ytext,
        ticklabeloverflow="allow")
    layout[f"yaxis{nr}"] = dict(
        common, range=list(Y_RANGES[k]), domain=[fy(bot), fy(top)],
        anchor=axref(nr, "x"), tickmode="array", tickvals=Y_TICKS[k],
        showticklabels=False)
    layout[legname(k)] = dict(
        x=fx(col[2] - 8), y=fy(bot - 12), xanchor="right", yanchor="bottom",
        xref="paper", yref="paper", bgcolor="rgba(255,255,255,0.85)",
        bordercolor="#cccccc", borderwidth=1.2, tracegroupgap=0, itemwidth=45,
        font=dict(family=FONT, size=16, color="black"), itemsizing="constant")
    annotations.append(dict(text=Y_TITLES[k], x=fx(col[0] - 63), y=fy((top + bot) / 2),
                            xref="paper", yref="paper", textangle=-90, showarrow=False,
                            xanchor="center", yanchor="middle",
                            font=dict(family=FONT, size=16, color="black")))
    annotations.append(dict(text=X_TITLE, x=fx(col[1]), y=fy(bot + 34),
                            xref="paper", yref="paper", showarrow=False,
                            xanchor="center", yanchor="middle",
                            font=dict(family=FONT, size=20, color="black")))

annotations.append(dict(text="Primary", x=fx(688), y=fy(583), xref="paper", yref="paper",
                        showarrow=False, xanchor="left", yanchor="middle",
                        font=dict(family=FONT, size=17, color="black")))
annotations.append(dict(text="+ Secondary Al", x=fx(701), y=fy(604), xref="paper", yref="paper",
                        showarrow=False, xanchor="left", yanchor="middle",
                        font=dict(family=FONT, size=17, color="black")))
annotations.append(dict(text="Secondary Al", x=fx(688), y=fy(915), xref="paper", yref="paper",
                        showarrow=False, xanchor="left", yanchor="middle",
                        font=dict(family=FONT, size=17, color="black")))

layout["annotations"] = annotations
fig.update_layout(**layout)

# remove the browser's default page margin so the 1800x1618 figure fills the window exactly
PAGE_CSS_JS = ("document.body.style.margin='0';document.body.style.padding='0';"
               "document.documentElement.style.margin='0';"
               "document.documentElement.style.overflow='hidden';"
               "document.body.style.overflow='hidden';")
fig.write_html("out.html", post_script=PAGE_CSS_JS,
               config={"displayModeBar": False, "staticPlot": True})
